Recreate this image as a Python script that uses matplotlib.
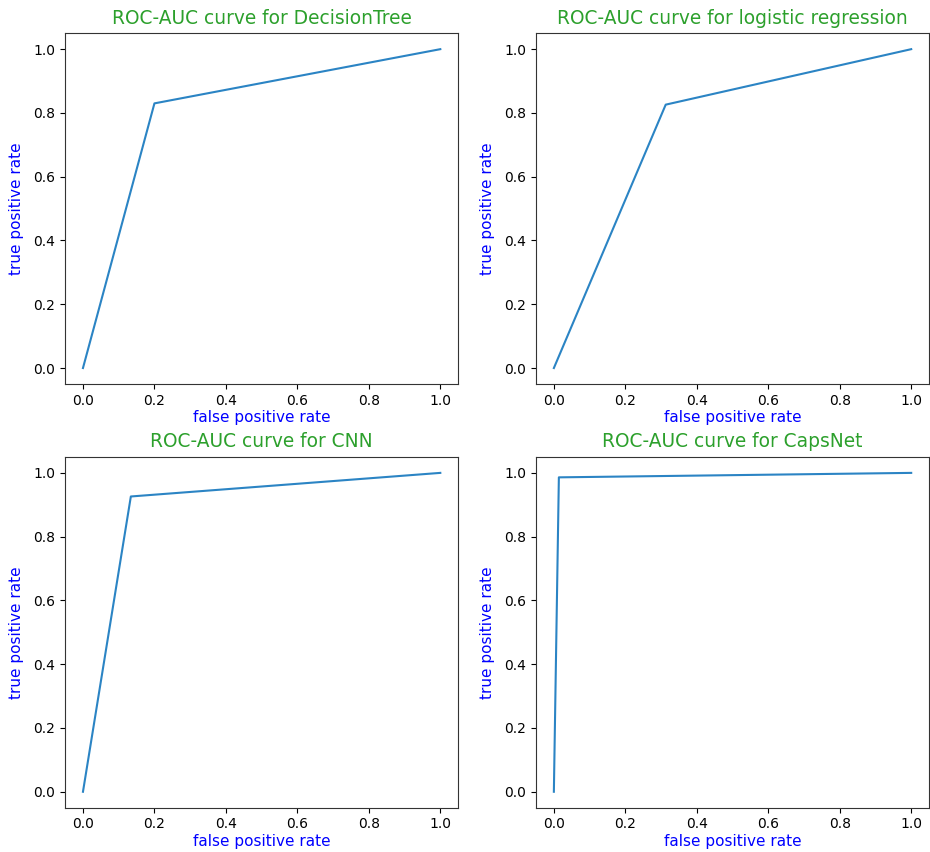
import numpy as np
import matplotlib
matplotlib.use('Agg')
import matplotlib.pyplot as plt

# ROC points (fpr, tpr)
names = ["DecisionTree", "logistic regression", "CNN", "CapsNet"]
fpr_dt = [0.0, 0.2, 1.0]
tpr_dt = [0.0, 0.83, 1.0]
fpr_lr = [0.0, 0.313, 1.0]
tpr_lr = [0.0, 0.826, 1.0]
fpr_cnn = [0.0, 0.134, 1.0]
tpr_cnn = [0.0, 0.926, 1.0]
fpr_caps = [0.0, 0.014, 1.0]
tpr_caps = [0.0, 0.986, 1.0]

fprs = [fpr_dt, fpr_lr, fpr_cnn, fpr_caps]
tprs = [tpr_dt, tpr_lr, tpr_cnn, tpr_caps]

fig, axes = plt.subplots(2, 2, figsize=(9.3, 8.52), dpi=100)
fig.subplots_adjust(left=0.070, right=0.999, bottom=0.052, top=0.961,
                    wspace=0.198, hspace=0.208)

for ax, name, fpr, tpr in zip(axes.flat, names, fprs, tprs):
    ax.plot(fpr, tpr, color='#2b84c4')
    ax.set_title(f"ROC-AUC curve for {name}", color='#2ca02c', fontsize=13.4, pad=7)
    ax.set_xlabel("false positive rate", color='blue', fontsize=11, labelpad=2)
    ax.set_ylabel("true positive rate", color='blue', fontsize=11, labelpad=7)
    for s in ax.spines.values():
        s.set_color('#333333')

plt.savefig("out.png", dpi=100)
